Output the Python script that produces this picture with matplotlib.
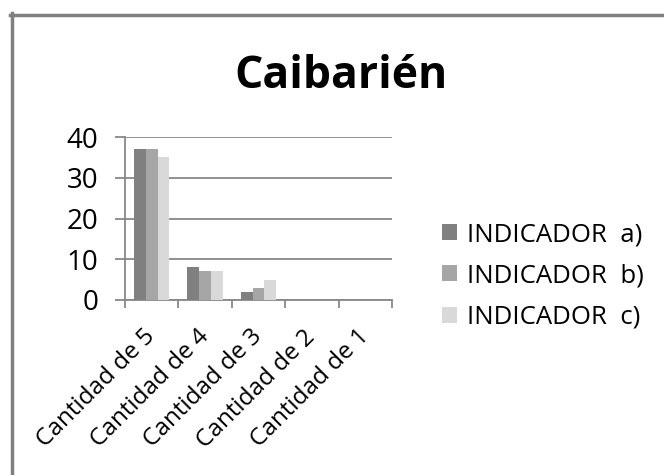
import matplotlib.pyplot as plt
import numpy as np
from matplotlib.lines import Line2D

plt.rcParams['font.family'] = ['Open Sans', 'DejaVu Sans']

categorias = ['Cantidad de 5', 'Cantidad de 4', 'Cantidad de 3', 'Cantidad de 2', 'Cantidad de 1']
ind_a = [37, 8, 2, 0, 0]
ind_b = [37, 7, 3, 0, 0]
ind_c = [35, 7, 5, 0, 0]
series = ['INDICADOR  a)', 'INDICADOR  b)', 'INDICADOR  c)']
colores = ['#808080', '#a6a6a6', '#d9d9d9']

fig = plt.figure(figsize=(6.64, 4.75), dpi=100)
ax = fig.add_axes([125 / 664, 1 - 300 / 475, 267 / 664, 163 / 475])

x = np.arange(len(categorias))
w = 0.22
for i, (vals, lab, col) in enumerate(zip([ind_a, ind_b, ind_c], series, colores)):
    ax.bar(x + (i - 1) * w, vals, w, color=col, label=lab, zorder=3)

ax.set_xlim(-0.5, len(categorias) - 0.5)
ax.set_ylim(0, 40)
ax.set_yticks([0, 10, 20, 30, 40])
ax.yaxis.grid(True, color='#888888', linewidth=1.3, zorder=0)
for s in ['top', 'right']:
    ax.spines[s].set_visible(False)
for s in ['left', 'bottom']:
    ax.spines[s].set_color('#888888')
    ax.spines[s].set_linewidth(1.3)

ax.set_xticks(x)
ax.set_xticklabels(categorias, rotation=45, ha='right', va='center',
                   rotation_mode='anchor', fontsize=17.5)
ax.tick_params(axis='x', length=0, pad=24)
ax.set_xticks(np.arange(-0.5, len(categorias)), minor=True)
ax.tick_params(axis='x', which='minor', length=6, color='#888888', width=1.3)
ax.tick_params(axis='y', length=7, color='#888888', width=1.3, labelsize=20, pad=12)

fig.text(0.5136, 1 - 88 / 475, 'Caibarién', ha='center', va='baseline',
         fontsize=32, fontweight='bold')

ax.legend(loc='upper left', bbox_to_anchor=(442 / 664, 1 - 222 / 475),
          bbox_transform=fig.transFigure, frameon=False, fontsize=18.5,
          handlelength=0.58, handleheight=0.58, handletextpad=0.4,
          labelspacing=0.64, borderpad=0, borderaxespad=0)

# marco gris
fig.add_artist(Line2D([11.5 / 664, 11.5 / 664], [0, 1 - 13 / 475], color='#808080', linewidth=2.5))
fig.add_artist(Line2D([10 / 664, 1], [1 - 14.5 / 475, 1 - 14.5 / 475], color='#808080', linewidth=2.5))

fig.savefig('out.png', dpi=100)
